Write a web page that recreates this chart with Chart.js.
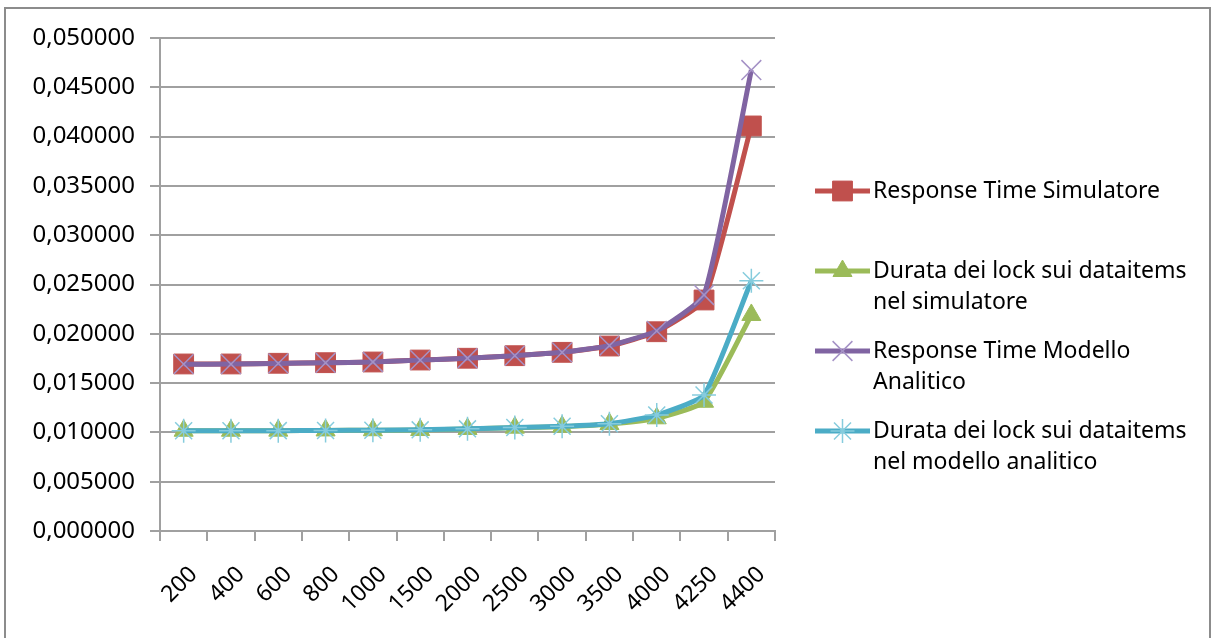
<!DOCTYPE html>
<html>
<head>
<meta charset="utf-8">
<title>Response time e durata dei lock</title>
<script src="https://cdn.jsdelivr.net/npm/chart.js@4.4.1/dist/chart.umd.min.js"></script>
<style>
  html, body { margin: 0; padding: 0; background: #fff; overflow: hidden; }
  #wrap { position: relative; width: 1211px; height: 638px; }
  #frame { position: absolute; left: 4px; top: 7px; width: 1203px; height: 700px; border: 2px solid #8c8c8c; }
  canvas { position: absolute; left: 0; top: 0; }
</style>
</head>
<body>
<div id="wrap">
  <div id="frame"></div>
  <canvas id="lockChart" width="1211" height="638"></canvas>
</div>
<script>
// numero di transazioni (asse x)
const categories = ['200', '400', '600', '800', '1000', '1500', '2000', '2500', '3000', '3500', '4000', '4250', '4400'];

// tempi in secondi
const responseSim   = [0.01694, 0.01694, 0.01701, 0.01707, 0.01714, 0.01734, 0.01752, 0.01778, 0.01812, 0.01876, 0.02021, 0.02343, 0.04108];
const lockSim       = [0.01017, 0.01017, 0.01018, 0.01020, 0.01022, 0.01024, 0.01035, 0.01048, 0.01058, 0.01085, 0.01143, 0.01311, 0.02191];
const responseModel = [0.01692, 0.01693, 0.01700, 0.01706, 0.01714, 0.01733, 0.01752, 0.01778, 0.01812, 0.01880, 0.02030, 0.02394, 0.04675];
const lockModel     = [0.01016, 0.01016, 0.01018, 0.01020, 0.01022, 0.01026, 0.01036, 0.01050, 0.01062, 0.01088, 0.01176, 0.01379, 0.02538];

const seriesNames = [
    'Response Time Simulatore',
    'Durata dei lock sui dataitems nel simulatore',
    'Response Time Modello Analitico',
    'Durata dei lock sui dataitems nel modello analitico'
];

const yMin = 0, yMax = 0.05, yStep = 0.005;

const FONT = '"Noto Sans", "Open Sans", sans-serif';

function fmtTick(v) {
    return Number(v).toFixed(6).replace('.', ',');
}

function wrapText(ctx, text, maxW) {
    const words = text.split(' ');
    const lines = [];
    let cur = '';
    words.forEach(w => {
        const test = cur ? cur + ' ' + w : w;
        if (ctx.measureText(test).width > maxW && cur) {
            lines.push(cur);
            cur = w;
        } else {
            cur = test;
        }
    });
    if (cur) lines.push(cur);
    return lines;
}

// legenda a destra, voci su più righe
const sideLegend = {
    id: 'sideLegend',
    afterDraw(chart) {
        const ctx = chart.ctx;
        const left = 815, sampleW = 55, textX = 873, firstY = 191, slot = 80, lineH = 31;
        ctx.save();
        ctx.font = '23px ' + FONT;
        ctx.textBaseline = 'middle';
        ctx.textAlign = 'left';
        chart.data.datasets.forEach((ds, i) => {
            const y = firstY + i * slot;
            ctx.strokeStyle = ds.borderColor;
            ctx.lineWidth = ds.borderWidth;
            ctx.beginPath();
            ctx.moveTo(left, y);
            ctx.lineTo(left + sampleW, y);
            ctx.stroke();

            ctx.fillStyle = ds.pointBackgroundColor;
            ctx.strokeStyle = ds.pointBorderColor;
            ctx.lineWidth = ds.pointBorderWidth;
            Chart.helpers.drawPoint(ctx, {
                pointStyle: ds.pointStyle,
                radius: ds.pointRadius,
                rotation: 0,
                borderWidth: ds.pointBorderWidth
            }, left + sampleW / 2, y);

            ctx.fillStyle = '#000';
            wrapText(ctx, ds.label, 330).forEach((line, j) => {
                ctx.fillText(line, textX, y + j * lineH);
            });
        });
        ctx.restore();
    }
};

function series(idx, data, color, style, radius, markerBorder, markerWidth, order) {
    return {
        label: seriesNames[idx],
        data: data,
        borderColor: color,
        backgroundColor: color,
        borderWidth: 5,
        tension: 0.15,
        pointStyle: style,
        pointRadius: radius,
        pointHoverRadius: radius,
        pointBackgroundColor: color,
        pointBorderColor: markerBorder,
        pointBorderWidth: markerWidth,
        order: order
    };
}

new Chart(document.getElementById('lockChart'), {
    type: 'line',
    data: {
        labels: categories,
        datasets: [
            series(0, responseSim,   '#C0504D', 'rect',     14, '#C0504D', 1,   4),
            series(1, lockSim,       '#9BBB59', 'triangle', 11, '#9BBB59', 1,   3),
            series(2, responseModel, '#8064A2', 'crossRot', 14, '#A592C6', 1.5, 2),
            series(3, lockModel,     '#4BACC6', 'star',     12, '#86CCDD', 1.5, 1)
        ]
    },
    options: {
        responsive: false,
        animation: false,
        layout: { padding: { top: 38, right: 436, left: 0, bottom: 0 } },
        plugins: {
            legend: { display: false },
            tooltip: { enabled: false }
        },
        scales: {
            x: {
                offset: true,
                grid: {
                    offset: true,
                    drawOnChartArea: false,
                    drawTicks: true,
                    tickLength: 10,
                    color: '#a0a0a0',
                    lineWidth: 2
                },
                border: { color: '#a0a0a0', width: 2 },
                ticks: {
                    color: '#000',
                    font: { family: FONT, size: 23 },
                    minRotation: 45,
                    maxRotation: 45,
                    autoSkip: false,
                    padding: 20,
                    labelOffset: 10
                },
                afterFit(scale) { scale.height = 107; }
            },
            y: {
                min: yMin,
                max: yMax,
                grid: {
                    color: '#a0a0a0',
                    lineWidth: 2,
                    tickLength: 10
                },
                border: { color: '#a0a0a0', width: 2 },
                ticks: {
                    stepSize: yStep,
                    color: '#000',
                    padding: 15,
                    font: { family: FONT, size: 24 },
                    callback: fmtTick
                },
                afterFit(scale) { scale.width = 160; }
            }
        }
    },
    plugins: [sideLegend]
});
</script>
</body>
</html>
